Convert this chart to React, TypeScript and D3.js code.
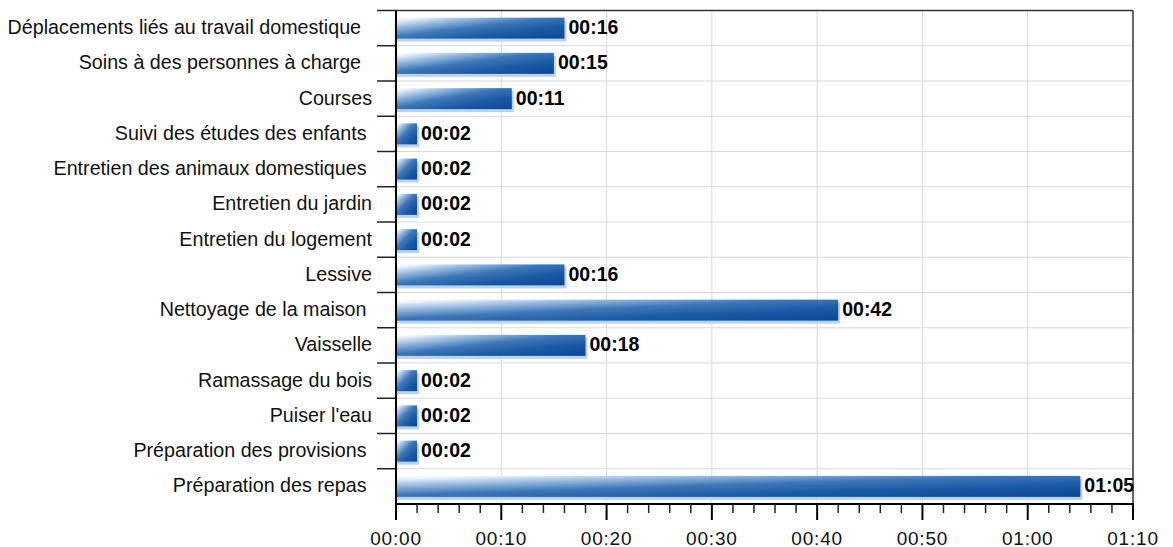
import * as d3 from "d3";

const categories = [
  "Déplacements liés au travail domestique  ",
  "Soins à des personnes à charge  ",
  "Courses",
  "Suivi des études des enfants ",
  "Entretien des animaux domestiques ",
  "Entretien du jardin",
  "Entretien du logement",
  "Lessive",
  "Nettoyage de la maison ",
  "Vaisselle",
  "Ramassage du bois",
  "Puiser l'eau",
  "Préparation des provisions ",
  "Préparation des repas ",
];
// minutes per day
const minutes = [16, 15, 11, 2, 2, 2, 2, 16, 42, 18, 2, 2, 2, 65];
const tickValues = [0, 10, 20, 30, 40, 50, 60, 70];

const fmt = (m: number) =>
  `${String(Math.floor(m / 60)).padStart(2, "0")}:${String(m % 60).padStart(2, "0")}`;

export default function App() {
  const W = 1173, H = 547;
  const left = 396, right = 1133, top = 10.5, bottom = 504;

  const x = d3.scaleLinear().domain([0, 70]).range([left, right]);
  const y = d3.scaleBand<string>().domain(categories).range([top, bottom]).padding(0);
  const bw = y.bandwidth();
  const barH = 21;
  const minorTicks = d3.range(0, 71, 2).filter((v) => v % 10 !== 0);
  const font = "Arial, 'Liberation Sans', sans-serif";

  return (
    <div style={{ position: "absolute", left: 0, top: 0 }}>
      <svg width={W} height={H} style={{ display: "block", background: "#fff" }}>
        <defs>
          <linearGradient id="barGrad" x1="0" y1="0" x2="1" y2="1">
            <stop offset="0" stopColor="#ffffff" />
            <stop offset="0.08" stopColor="#e8f0f9" />
            <stop offset="0.25" stopColor="#93b6dc" />
            <stop offset="0.45" stopColor="#3f78b8" />
            <stop offset="0.7" stopColor="#1b5aa5" />
            <stop offset="1" stopColor="#0a4896" />
          </linearGradient>
        </defs>

        {/* grid */}
        {tickValues.slice(1, -1).map((t) => (
          <line key={"gx" + t} x1={x(t)} x2={x(t)} y1={top} y2={bottom} stroke="#d9d9d9" strokeWidth={1} />
        ))}
        {categories.slice(1).map((c) => (
          <line key={"gy" + c} x1={left} x2={right} y1={y(c)!} y2={y(c)!} stroke="#d9d9d9" strokeWidth={1} />
        ))}

        {/* category ticks on the left */}
        {categories.map((c) => (
          <line key={"ty" + c} x1={377} x2={left} y1={y(c)!} y2={y(c)!} stroke="#222" strokeWidth={1.5} />
        ))}

        {/* frame */}
        <line x1={left} x2={right} y1={top} y2={top} stroke="#333" strokeWidth={1.5} />
        <line x1={right} x2={right} y1={top} y2={bottom} stroke="#333" strokeWidth={1.5} />

        {/* bars */}
        {categories.map((c, i) => {
          const cy = y(c)! + bw / 2;
          const y0 = cy - barH / 2;
          const w = x(minutes[i]) - x(0);
          return (
            <g key={"b" + c}>
              <rect x={x(0) + 1} y={y0 + 3} width={w + 1} height={barH} fill="#b5d4f1" />
              <rect x={x(0)} y={y0} width={w} height={barH} fill="url(#barGrad)" />
              <text
                x={x(minutes[i]) + 4}
                y={cy - 1}
                dominantBaseline="central"
                fontFamily={font}
                fontWeight="bold"
                fontSize={19.5}
                fill="#000"
              >
                {fmt(minutes[i])}
              </text>
              <text
                x={372}
                y={cy - 1}
                dominantBaseline="central"
                textAnchor="end"
                fontFamily={font}
                fontSize={19.7}
                fill="#111"
                style={{ whiteSpace: "pre" }}
              >
                {c}
              </text>
            </g>
          );
        })}

        {/* axes */}
        <line x1={left} x2={left} y1={top} y2={bottom + 1} stroke="#000" strokeWidth={2} />
        <line x1={left - 1} x2={right + 1} y1={bottom} y2={bottom} stroke="#000" strokeWidth={2} />
        {minorTicks.map((t) => (
          <line key={"mt" + t} x1={x(t)} x2={x(t)} y1={bottom} y2={bottom + 9} stroke="#222" strokeWidth={1.5} />
        ))}
        {tickValues.map((t) => (
          <g key={"t" + t}>
            <line x1={x(t)} x2={x(t)} y1={bottom} y2={bottom + 16} stroke="#000" strokeWidth={2} />
            <text
              x={x(t)}
              y={538}
              dominantBaseline="central"
              textAnchor="middle"
              fontFamily={font}
              fontSize={19}
              letterSpacing={0.8}
              fill="#111"
            >
              {fmt(t)}
            </text>
          </g>
        ))}
      </svg>
    </div>
  );
}
